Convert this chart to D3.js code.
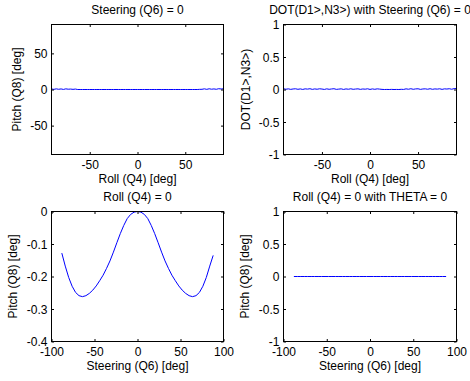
<!DOCTYPE html>
<html><head><meta charset="utf-8">
<script src="https://cdn.jsdelivr.net/npm/d3@7"></script>
<style>
html,body{margin:0;padding:0;background:#fff;}
svg{display:block;}
text{font-family:"Liberation Sans",Arial,Helvetica,sans-serif;font-size:12px;fill:#000;}
</style></head><body>
<svg id="c" width="470" height="381"></svg>
<script>
// ---------- data ----------
const rollDeg = [-90,-87.5,-85,-82.5,-80,-77.5,-75,-72.5,-70,-67.5,
  -65,-62.5,-60,-57.5,-55,-52.5,-50,-47.5,-45,-42.5,
  -40,-37.5,-35,-32.5,-30,-27.5,-25,-22.5,-20,-17.5,
  -15,-12.5,-10,-7.5,-5,-2.5,0,2.5,5,7.5,
  10,12.5,15,17.5,20,22.5,25,27.5,30,32.5,
  35,37.5,40,42.5,45,47.5,50,52.5,55,57.5,
  60,62.5,65,67.5,70,72.5,75,77.5,80,82.5,
  85,87.5,90];
const pitchVsRoll = [0.7,0.2,0.9,0.3,0.8,0.1,0.9,0.4,0.6,0.2,
  0.6,0,0,0,0,0,0,0,0,0,
  0,0,0,0,0,0,0,0,0,0,
  0,0,0,0,0,0,0,0,0,0,
  0,0,0,0,0,0,0,0,0,0,
  0,0,0,0,0,0,0,0,0,0,
  0,0,0.2,0.3,0.9,0.2,1.0,0.4,0.8,0.3,
  1.1,0.7,1.0];
const dotVsRoll = [0.012,0.004,0.010,0.002,0.008,0.011,0.003,0.009,0.001,0.010,
  0.006,0.012,0.002,0.009,0.004,0.011,0.007,0.001,0.010,0.003,
  0.008,0.012,0.002,0.006,0.010,0.001,0.009,0.004,0.011,0.003,
  0.007,0.010,0.002,0.008,0.005,0.011,0.001,0.009,0.003,0.010,
  0.006,0.002,0.000,0.001,0.000,0.002,0.000,0.001,0.000,0.003,
  0.001,0.010,0.004,0.012,0.003,0.009,0.011,0.002,0.008,0.010,
  0.004,0.012,0.003,0.009,0.006,0.011,0.002,0.010,0.007,0.012,
  0.004,0.013,0.015];
const steerDeg = [-88,-84,-80,-76,-72,-68,-64,-60,-56,-52,-48,-44,-40,-36,-32,-28,-24,-20,-16,-12,-8,-4,0,4,8,12,16,20,24,28,32,36,40,44,48,52,56,60,64,68,72,76,80,84,88];
const pitchVsSteer = [-0.128,-0.168,-0.203,-0.230,-0.249,-0.259,-0.262,-0.259,-0.252,-0.242,-0.229,-0.213,-0.196,-0.175,-0.152,-0.125,-0.096,-0.068,-0.043,-0.022,-0.009,-0.002,0,
  -0.002,-0.009,-0.022,-0.043,-0.068,-0.096,-0.125,-0.152,-0.175,-0.196,-0.213,-0.229,-0.242,-0.252,-0.259,-0.262,-0.259,-0.249,-0.230,-0.203,-0.168,-0.135];
const pitchVsSteerTheta0 = [0,0,0,0,0,0,0,0,0,0,0,0,0,0,0,0,0,0,0,0,0,0,0,0,0,0,0,0,0,0,0,0,0,0,0,0,0,0,0,0,0,0,0,0,0];

// ---------- ticks ----------
const rollTicks = [-50,0,50];
const pitchTicksA = [-50,0,50];
const dotTicks = [-1,-0.5,0,0.5,1];
const steerTicks = [-100,-50,0,50,100];
const pitchTicksC = [-0.4,-0.3,-0.2,-0.1,0];
const pitchTicksD = [-1,-0.5,0,0.5,1];

const svg = d3.select("#c");
const fmt = v => String(v);
const TL = 2.5;

function panel(o){
  const x = d3.scaleLinear().domain(o.xd).range([o.x0,o.x1]);
  const y = d3.scaleLinear().domain(o.yd).range([o.y1,o.y0]);
  const g = svg.append("g");
  const pts = o.xs.map((v,i)=>[v,o.ys[i]]).filter(d=>d[1]!==undefined);
  g.append("path").datum(pts)
    .attr("fill","none").attr("stroke","#0000ff").attr("stroke-width",1)
    .attr("d", d3.line().x(d=>x(d[0])).y(d=>y(d[1])));
  const ab = g.append("g").attr("transform",`translate(0,${o.y1})`)
    .call(d3.axisBottom(x).tickValues(o.xt).tickFormat(fmt).tickSizeInner(-TL).tickSizeOuter(0).tickPadding(0));
  ab.selectAll("text").attr("y",14.5).attr("dy",null);
  g.append("g").attr("transform",`translate(0,${o.y0})`)
    .call(d3.axisTop(x).tickValues(o.xt).tickFormat("").tickSizeInner(-TL).tickSizeOuter(0));
  const al = g.append("g").attr("transform",`translate(${o.x0},0)`)
    .call(d3.axisLeft(y).tickValues(o.yt).tickFormat(fmt).tickSizeInner(-TL).tickSizeOuter(0).tickPadding(0));
  al.selectAll("text").attr("x",-4).attr("dy","0.36em");
  g.append("g").attr("transform",`translate(${o.x1},0)`)
    .call(d3.axisRight(y).tickValues(o.yt).tickFormat("").tickSizeInner(-TL).tickSizeOuter(0));
  g.selectAll(".domain").remove();
  g.selectAll(".tick line").attr("stroke","#000");
  g.selectAll(".tick text").attr("fill","#000");
  g.selectAll("g").attr("font-size",null).attr("font-family",null);
  g.append("rect").attr("x",o.x0).attr("y",o.y0).attr("width",o.x1-o.x0).attr("height",o.y1-o.y0)
    .attr("fill","none").attr("stroke","#000").attr("stroke-width",1);
  const cx = (o.x0+o.x1)/2, cy=(o.y0+o.y1)/2;
  g.append("text").attr("x",cx).attr("y",o.y0-11).attr("text-anchor","middle").text(o.title);
  g.append("text").attr("x",cx).attr("y",o.y1+28.5).attr("text-anchor","middle").text(o.xl);
  g.append("text").attr("transform",`translate(${o.ylx},${cy}) rotate(-90)`).attr("text-anchor","middle").text(o.yl);
}

panel({x0:51.5,x1:223.5,y0:24.5,y1:154.5,xd:[-90,90],yd:[-90,90],xt:rollTicks,yt:pitchTicksA,
  xs:rollDeg,ys:pitchVsRoll,title:"Steering (Q6) = 0",xl:"Roll (Q4) [deg]",yl:"Pitch (Q8) [deg]",ylx:21});
panel({x0:283.5,x1:456.5,y0:24.5,y1:154.5,xd:[-90,90],yd:[-1,1],xt:rollTicks,yt:dotTicks,
  xs:rollDeg,ys:dotVsRoll,title:"DOT(D1>,N3>) with Steering (Q6) = 0",xl:"Roll (Q4) [deg]",yl:"DOT(D1>,N3>)",ylx:249.5});
panel({x0:51.5,x1:223.5,y0:211.5,y1:341.5,xd:[-100,100],yd:[-0.4,0],xt:steerTicks,yt:pitchTicksC,
  xs:steerDeg,ys:pitchVsSteer,title:"Roll (Q4) = 0",xl:"Steering (Q6) [deg]",yl:"Pitch (Q8) [deg]",ylx:17});
panel({x0:283.5,x1:456.5,y0:211.5,y1:341.5,xd:[-100,100],yd:[-1,1],xt:steerTicks,yt:pitchTicksD,
  xs:steerDeg,ys:pitchVsSteerTheta0,title:"Roll (Q4) = 0 with THETA = 0",xl:"Steering (Q6) [deg]",yl:"Pitch (Q8) [deg]",ylx:248.5});
</script>
</body></html>
